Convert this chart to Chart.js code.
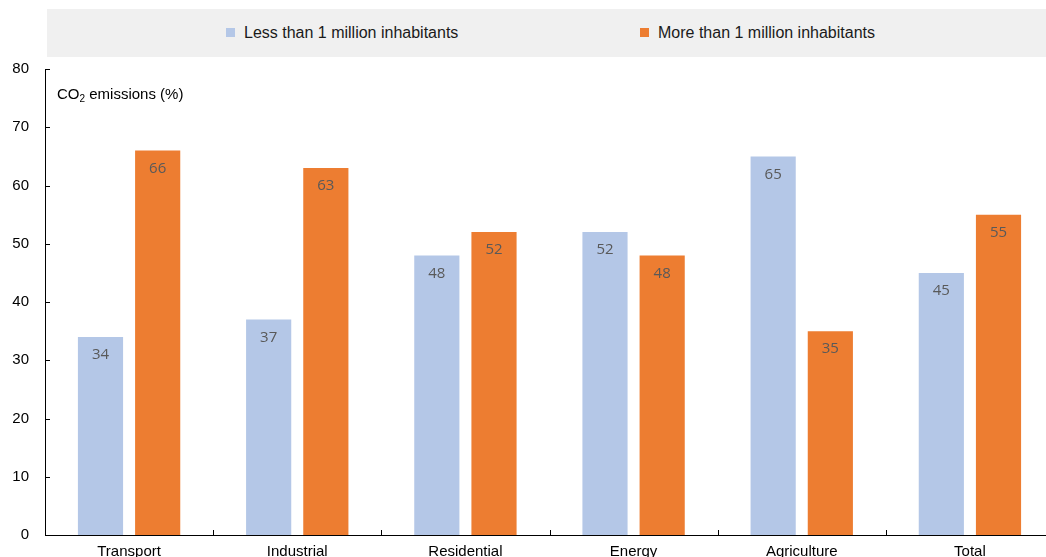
<!DOCTYPE html>
<html>
<head>
<meta charset="utf-8">
<script src="https://cdn.jsdelivr.net/npm/chart.js@4/dist/chart.umd.min.js"></script>
<style>
  html, body { margin: 0; padding: 0; background: #fff; overflow: hidden; }
  #wrap { position: relative; width: 1046px; height: 557px; overflow: hidden; }
  #legend {
    position: absolute; left: 47px; top: 9px; width: 1020px; height: 48px;
    background: #f0f0f0; font: 16px "Liberation Sans", Arial, sans-serif; color: #1a1a1a;
  }
  .item { position: absolute; top: 15px; line-height: 18px; white-space: nowrap; }
  .box { display: inline-block; width: 9px; height: 9px; margin-right: 9px; vertical-align: 1px; }
  canvas { position: absolute; left: 0; top: 0; }
</style>
</head>
<body>
<div id="wrap">
  <canvas id="bars" width="1056" height="580"></canvas>
  <div id="legend"></div>
</div>
<script>
var sectors = ["Transport", "Industrial", "Residential", "Energy", "Agriculture", "Total"];
var seriesNames = ["Less than 1 million inhabitants", "More than 1 million inhabitants"];
var small = [34, 37, 48, 52, 65, 45];
var large = [66, 63, 52, 48, 35, 55];
var yTicks = [0, 10, 20, 30, 40, 50, 60, 70, 80];
var colours = ["#b4c7e7", "#ed7d31"];

// legend row above the chart
var legendLeft = [179, 593];
var lg = document.getElementById("legend");
seriesNames.forEach(function (name, i) {
  var d = document.createElement("div");
  d.className = "item";
  d.style.left = legendLeft[i] + "px";
  d.innerHTML = '<span class="box" style="background:' + colours[i] + '"></span>' + name;
  lg.appendChild(d);
});

var extras = {
  id: "extras",
  afterDraw: function (chart) {
    var ctx = chart.ctx;
    var x = chart.scales.x, y = chart.scales.y;
    ctx.save();
    // inward tick marks
    ctx.strokeStyle = "#000";
    ctx.lineWidth = 1;
    ctx.beginPath();
    yTicks.forEach(function (v) {
      var py = Math.round(y.getPixelForValue(v)) + 0.5;
      ctx.moveTo(x.left, py);
      ctx.lineTo(x.left + 5, py);
    });
    for (var i = 1; i < sectors.length; i++) {
      var px = Math.round((x.getPixelForValue(i - 1) + x.getPixelForValue(i)) / 2) + 0.5;
      ctx.moveTo(px, y.bottom);
      ctx.lineTo(px, y.bottom - 5);
    }
    ctx.stroke();

    // value labels inside bar tops
    ctx.fillStyle = "#595959";
    ctx.font = '15px "Open Sans", sans-serif';
    ctx.textAlign = "center";
    ctx.textBaseline = "middle";
    chart.data.datasets.forEach(function (ds, di) {
      chart.getDatasetMeta(di).data.forEach(function (bar, j) {
        ctx.fillText(String(ds.data[j]), bar.x, bar.y + 18);
      });
    });

    // axis title with subscript
    ctx.fillStyle = "#000";
    ctx.textAlign = "left";
    ctx.textBaseline = "alphabetic";
    var tx = 57, ty = 99;
    ctx.font = '15px "Liberation Sans", Arial, sans-serif';
    ctx.fillText("CO", tx, ty);
    tx += ctx.measureText("CO").width;
    ctx.font = '10px "Liberation Sans", Arial, sans-serif';
    ctx.fillText("2", tx, ty + 3);
    tx += ctx.measureText("2").width;
    ctx.font = '15px "Liberation Sans", Arial, sans-serif';
    ctx.fillText(" emissions (%)", tx, ty);
    ctx.restore();
  }
};

new Chart(document.getElementById("bars"), {
  type: "bar",
  data: {
    labels: sectors,
    datasets: [
      { label: seriesNames[0], data: small, backgroundColor: colours[0] },
      { label: seriesNames[1], data: large, backgroundColor: colours[1] }
    ]
  },
  options: {
    responsive: false,
    animation: false,
    events: [],
    categoryPercentage: 0.68,
    barPercentage: 0.79,
    layout: { padding: { top: 69, right: 2, left: 0, bottom: 0 } },
    plugins: { legend: { display: false }, tooltip: { enabled: false } },
    scales: {
      x: {
        grid: { display: false, drawTicks: false },
        border: { display: true, color: "#000", width: 1 },
        ticks: { color: "#000", padding: 8, font: { family: '"Liberation Sans", Arial, sans-serif', size: 15 } },
        afterFit: function (s) { s.height = 45; }
      },
      y: {
        min: 0, max: 80,
        grid: { display: false, drawTicks: false },
        border: { display: true, color: "#000", width: 1 },
        ticks: { stepSize: 10, color: "#000", padding: 16, font: { family: '"Liberation Sans", Arial, sans-serif', size: 15 } },
        afterFit: function (s) { s.width = 45; }
      }
    }
  },
  plugins: [extras]
});
</script>
</body>
</html>
